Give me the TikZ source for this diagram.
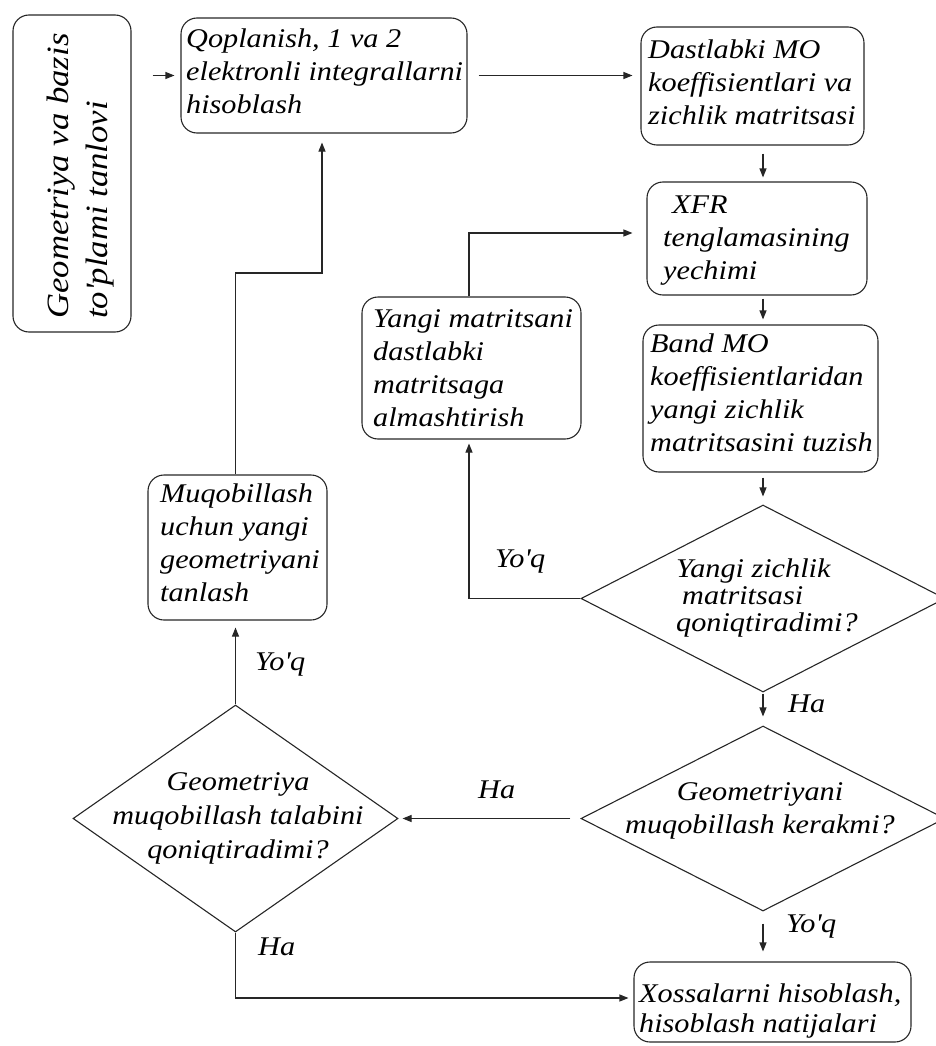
\documentclass[tikz,border=0pt]{standalone}
\usepackage{fontspec}
\setmainfont{Liberation Serif}[FakeStretch=1.12]
\usetikzlibrary{arrows.meta,shapes.geometric,calc}
\begin{document}
\begin{tikzpicture}[x=1pt,y=-1pt,
  box/.style={draw=black!85, rounded corners=16pt, line width=1.1pt, inner sep=0pt},
  dia/.style={draw=black!85, diamond, line width=1.1pt, inner sep=0pt},
  txt/.style={inner sep=0pt, anchor=north west, align=left, font=\itshape\fontsize{27}{33}\selectfont},
  lbl/.style={inner sep=0pt, anchor=base west, font=\itshape\fontsize{27}{33}\selectfont},
  arr/.style={-{Triangle[length=9pt,width=7pt]}, line width=1.1pt, draw=black!85},
]
\useasboundingbox (0,0) rectangle (936,1046);

% boxes
\node[box, minimum width=118pt, minimum height=317pt] (A) at (72,173.5) {};
\node[box, minimum width=286pt, minimum height=115pt] (B) at (324,75.5) {};
\node[box, minimum width=223pt, minimum height=118pt] (C) at (752.5,86) {};
\node[box, minimum width=220pt, minimum height=113pt] (D) at (757,238.5) {};
\node[box, minimum width=235pt, minimum height=147pt] (E) at (760.5,398.5) {};
\node[box, minimum width=219pt, minimum height=142pt] (G) at (471.5,368) {};
\node[box, minimum width=179pt, minimum height=145pt] (K) at (237.5,547.5) {};
\node[box, minimum width=277pt, minimum height=80pt] (J) at (772.5,1002) {};
% diamonds
\node[dia, minimum width=364pt, minimum height=187pt] (F) at (763,598.5) {};
\node[dia, minimum width=364pt, minimum height=185pt] (H) at (763,818.5) {};
\node[dia, minimum width=325pt, minimum height=227pt] (I) at (235.5,818.5) {};

% texts
\node[txt, rotate=90, font=\itshape\fontsize{31}{39}\selectfont] (At) at (40.7,319)
  {\strut Geometriya va bazis\\to\textquotesingle plami tanlovi};
\node[txt] (Bt) at (186,23.9) {\strut Qoplanish, 1 va 2\\elektronli integrallarni\\hisoblash};
\node[txt] (Ct) at (648,34.9) {\strut Dastlabki MO\\koeffisientlari va\\zichlik matritsasi};
\node[txt] (Dt) at (663,189.9) {\strut\hspace*{9pt}XFR\\tenglamasining\\yechimi};
\node[txt] (Et) at (650,328.9) {\strut Band MO\\koeffisientlaridan\\yangi zichlik\\matritsasini tuzish};
\node[txt] (Gt) at (373,303.9) {\strut Yangi matritsani\\dastlabki\\matritsaga\\almashtirish};
\node[txt] (Kt) at (160,478.9) {\strut Muqobillash\\uchun yangi\\geometriyani\\tanlash};
\node[txt, font=\itshape\fontsize{27}{30}\selectfont] (Jt) at (639,981)
  {\strut Xossalarni hisoblash,\\hisoblash natijalari};
\node[txt, font=\itshape\fontsize{27}{27}\selectfont] (Ft) at (676,558.1)
  {\strut Yangi zichlik\\\hspace*{6pt}matritsasi\\qoniqtiradimi?};
\node[txt, anchor=north, align=center] (Ht) at (760,776.9)
  {\strut Geometriyani\\muqobillash kerakmi?};
\node[txt, anchor=north, align=center, font=\itshape\fontsize{27}{34}\selectfont] (It) at (238,766.2)
  {\strut Geometriya\\muqobillash talabini\\qoniqtiradimi?};

% labels
\node[lbl] (L1) at (495,567) {Yo\textquotesingle q};
\node[lbl] (L2) at (788,712) {Ha};
\node[lbl] (L3) at (478,798) {Ha};
\node[lbl] (L4) at (786,932) {Yo\textquotesingle q};
\node[lbl] (L5) at (255,670) {Yo\textquotesingle q};
\node[lbl] (L6) at (258,955) {Ha};

% helper coordinates
\coordinate (xR) at (763,0);
\coordinate (xG) at (469,0);
\coordinate (yD) at (0,233);
\coordinate (kb) at (322,273);
\coordinate (yJ) at (0,998);

% connectors
\draw[arr, shorten <=21pt, shorten >=6pt] (A.east |- B.west) -- (B.west);
\draw[arr, shorten <=11pt, shorten >=8pt] (B.east) -- (C.west |- B.east);
\draw[arr, shorten <=8pt, shorten >=4pt] (C.south -| xR) -- (D.north -| xR);
\draw[arr, shorten <=3pt, shorten >=5pt] (D.south -| xR) -- (E.north -| xR);
\draw[arr, shorten <=5pt, shorten >=8pt] (E.south -| xR) -- (F.north);
\draw[arr, shorten >=4pt] (F.west) -| (G.south -| xG);
\draw[arr, shorten >=14pt] (G.north -| xG) |- (D.west |- yD);
\draw[arr, shorten <=1pt, shorten >=9pt] (F.south) -- (H.north);
\draw[arr, shorten <=10pt, shorten >=4pt] (H.west) -- (I.east);
\draw[arr, shorten >=7pt] (I.north) -- (K.south -| I.north);
\draw[arr, shorten >=9pt] (K.north -| I.north) |- (kb) -- (B.south -| kb);
\draw[arr, shorten <=12pt, shorten >=10pt] (H.south) -- (J.north -| H.south);
\draw[arr, shorten >=5pt] (I.south) |- (J.west |- yJ);
\end{tikzpicture}
\end{document}
